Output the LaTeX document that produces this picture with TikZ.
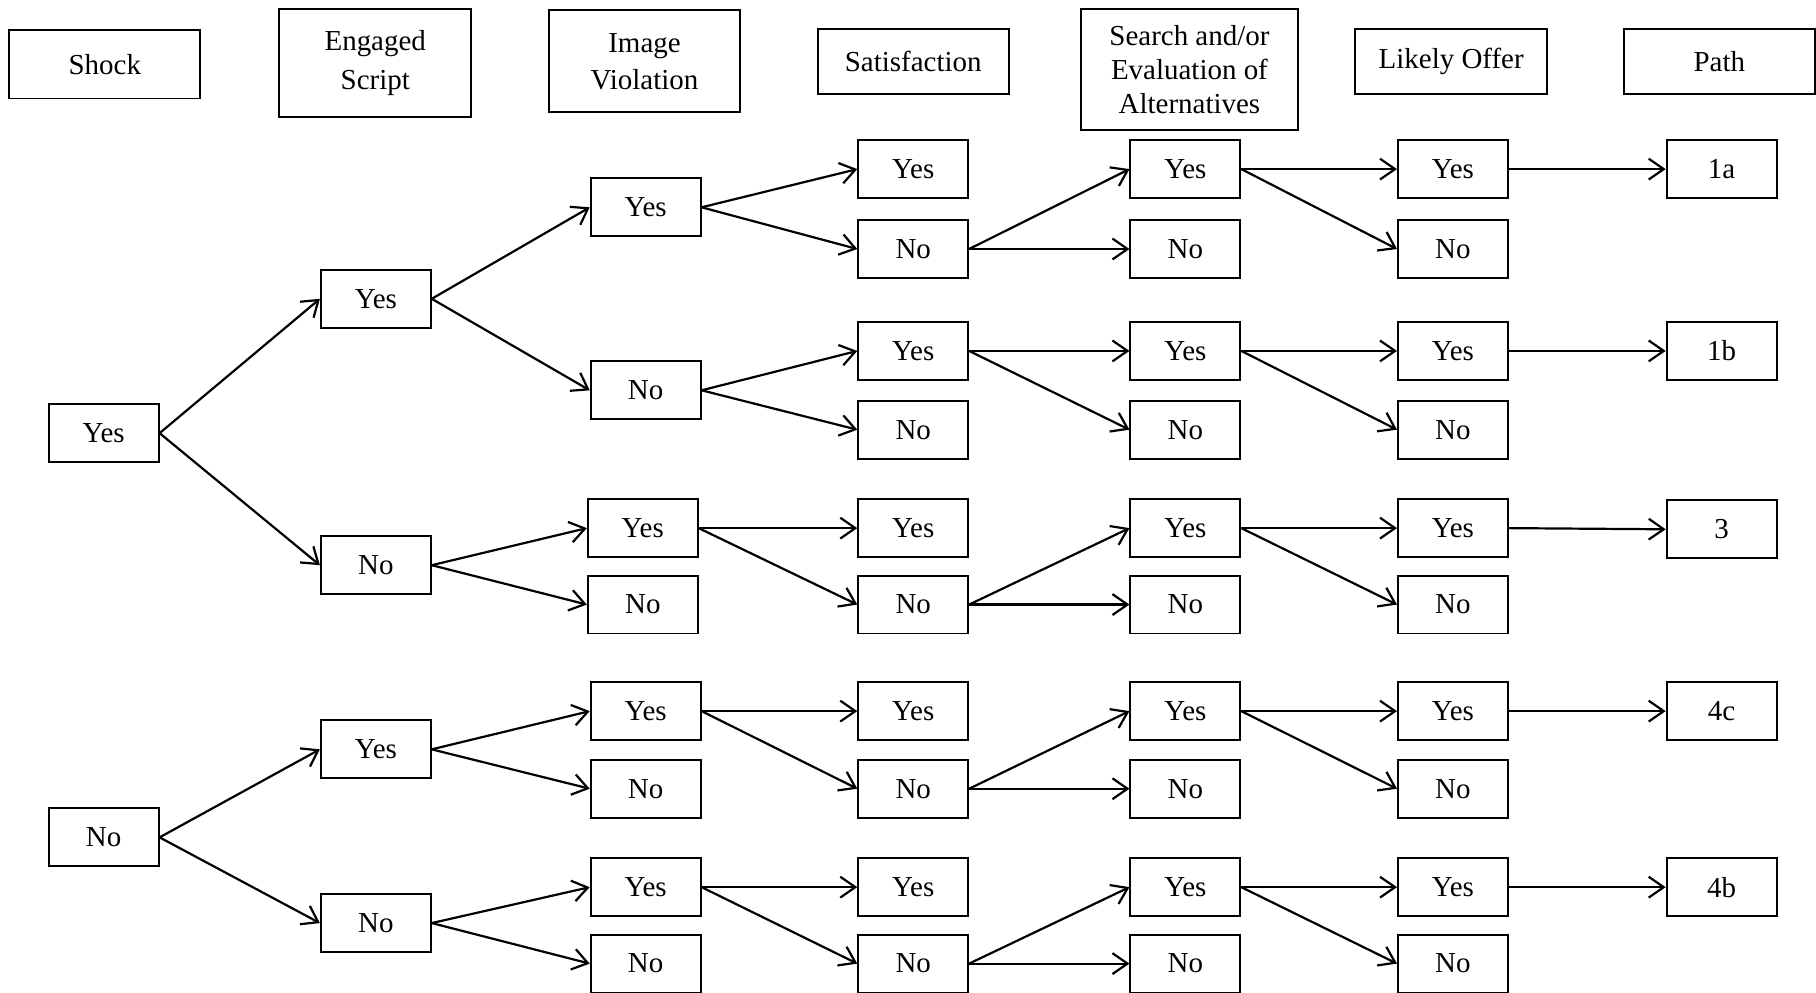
\documentclass[tikz,border=0pt]{standalone}
\usepackage{fontspec}
\setmainfont{Liberation Serif}
\usetikzlibrary{arrows.meta}
\begin{document}
\begin{tikzpicture}[x=1pt,y=-1pt,
  box/.style={draw,line width=1.6pt,minimum width=95pt,minimum height=50pt,inner sep=0pt,font=\fontsize{25}{30}\selectfont},
  hbox/.style={draw,line width=1.6pt,inner sep=0pt,align=center},
  conn/.style={line width=1.9pt,-{Straight Barb[length=13pt,width=18pt,line width=1.9pt]}}]
\useasboundingbox (0,0) rectangle (1568,857);
% headers
\node[hbox,minimum width=165pt,minimum height=59pt,font=\fontsize{25}{30}\selectfont] (hs) at (90.5,55.5) {Shock};
\node[hbox,minimum width=166pt,minimum height=93pt,font=\fontsize{25}{34}\selectfont] (he) at (324,54.5) {Engaged\\Script};
\node[hbox,minimum width=165pt,minimum height=88pt,font=\fontsize{25}{32}\selectfont] (hi) at (556.5,53) {Image\\Violation};
\node[hbox,minimum width=165pt,minimum height=56pt,font=\fontsize{25}{30}\selectfont] (ht) at (788.5,53) {Satisfaction};
\node[hbox,minimum width=188pt,minimum height=104pt,font=\fontsize{25}{29.5}\selectfont] (ha) at (1027,60) {Search and/or\\Evaluation of\\Alternatives};
\node[hbox,minimum width=166pt,minimum height=56pt,font=\fontsize{25}{30}\selectfont] (hl) at (1253,53) {Likely Offer};
\node[hbox,minimum width=165pt,minimum height=56pt,font=\fontsize{25}{30}\selectfont] (hp) at (1484.5,53) {Path};
% shock
\node[box] (s1) at (89.5,374) {Yes};
\node[box] (s2) at (89.5,723) {No};
% engaged
\node[box] (e1) at (324.5,258) {Yes};
\node[box] (e2) at (324.5,488) {No};
\node[box] (e3) at (324.5,647) {Yes};
\node[box] (e4) at (324.5,797) {No};
% image
\node[box] (i1) at (557.5,179) {Yes};
\node[box] (i2) at (557.5,337) {No};
\node[box] (i3) at (555,456) {Yes};
\node[box] (i4) at (555,522) {No};
\node[box] (i5) at (557.5,614) {Yes};
\node[box] (i6) at (557.5,681) {No};
\node[box] (i7) at (557.5,766) {Yes};
\node[box] (i8) at (557.5,832) {No};
% satisfaction, search, likely
\foreach \r/\y/\t in {1/146/Yes,2/215/No,3/303/Yes,4/371/No,5/456/Yes,6/522/No,7/614/Yes,8/681/No,9/766/Yes,10/832/No}{
  \node[box] (t\r) at (788.5,\y) {\t};
  \node[box] (a\r) at (1023.5,\y) {\t};
  \node[box] (l\r) at (1254.5,\y) {\t};
}
% path
\node[box] (p1) at (1486.5,146) {1a};
\node[box] (p2) at (1486.5,303) {1b};
\node[box] (p3) at (1486.5,457) {3};
\node[box] (p4) at (1486.5,614) {4c};
\node[box] (p5) at (1486.5,766) {4b};
% connectors
\foreach \a/\b in {s1/e1,s1/e2,s2/e3,s2/e4,
  e1/i1,e1/i2,e2/i3,e2/i4,e3/i5,e3/i6,e4/i7,e4/i8,
  i1/t1,i1/t2,i2/t3,i2/t4,i3/t5,i3/t6,i5/t7,i5/t8,i7/t9,i7/t10,
  t2/a1,t2/a2,t3/a3,t3/a4,t6/a5,t6/a6,t8/a7,t8/a8,t10/a9,t10/a10,
  a1/l1,a1/l2,a3/l3,a3/l4,a5/l5,a5/l6,a7/l7,a7/l8,a9/l9,a9/l10,
  l1/p1,l3/p2,l5/p3,l7/p4,l9/p5}{
  \draw[conn] (\a.east) -- (\b.west);
}
\end{tikzpicture}
\end{document}
